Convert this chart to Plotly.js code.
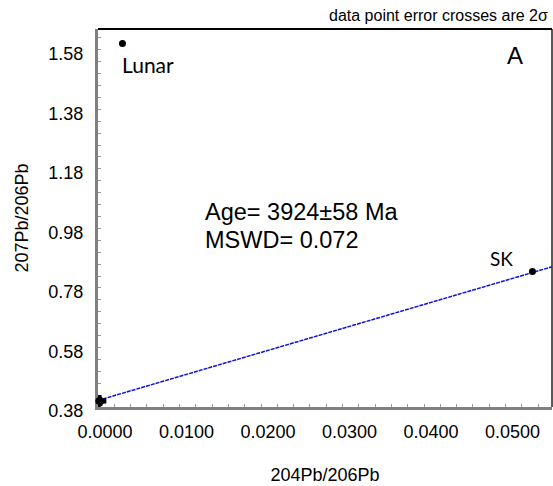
<!DOCTYPE html>
<html>
<head>
<meta charset="utf-8">
<script src="https://cdn.plot.ly/plotly-3.0.1.min.js"></script>
<style>html,body{margin:0;padding:0;background:#fff;}#chart{width:553px;height:486px;}</style>
</head>
<body>
<div id="chart"></div>
<script>
// Data
const clusterX = [0.0001, 0.0002, 0.0003];
const clusterY = [0.400, 0.402, 0.398];
const clusterErrX = [0.0009, 0.0008, 0.0007];
const clusterErrY = [0.020, 0.018, 0.015];
const labelledNames = ["Lunar", "SK"];
const labelledX = [0.0030, 0.0533];
const labelledY = [1.601, 0.835];
const lineX = [0.0, 0.0557];
const lineY = [0.402, 0.851];
const xTickVals = [0, 0.01, 0.02, 0.03, 0.04, 0.05];
const xTickText = ["0.0000", "0.0100", "0.0200", "0.0300", "0.0400", "0.0500"];
const yTickVals = [0.38, 0.58, 0.78, 0.98, 1.18, 1.38, 1.58];
const yTickText = ["0.38", "0.58", "0.78", "0.98", "1.18", "1.38", "1.58"];

const traces = [
  {
    x: lineX, y: lineY, mode: 'lines', type: 'scatter',
    line: {color: '#1010e0', width: 1.5, dash: '4px,1px'},
    hoverinfo: 'skip', showlegend: false
  },
  {
    x: clusterX, y: clusterY, mode: 'markers', type: 'scatter',
    marker: {color: '#000', size: 7},
    error_x: {type: 'data', array: clusterErrX, visible: true, color: '#000', thickness: 4, width: 0},
    error_y: {type: 'data', array: clusterErrY, visible: true, color: '#000', thickness: 4, width: 0},
    cliponaxis: false,
    showlegend: false
  },
  {
    x: labelledX, y: labelledY, mode: 'markers', type: 'scatter',
    marker: {color: '#000', size: 7},
    showlegend: false
  }
];

const annotations = [
  {x: labelledX[0], y: labelledY[0], xref: 'x', yref: 'y', text: labelledNames[0],
   showarrow: false, xanchor: 'left', yanchor: 'middle', yshift: -21, xshift: -2,
   font: {family: 'Lato, sans-serif', size: 21, color: '#000'}},
  {x: labelledX[1], y: labelledY[1], xref: 'x', yref: 'y', text: labelledNames[1],
   showarrow: false, xanchor: 'center', yanchor: 'middle', yshift: 13, xshift: -31,
   font: {family: 'Lato, sans-serif', size: 19, color: '#000'}},
  {x: 0.232, y: 0.516, xref: 'paper', yref: 'paper', text: 'Age= 3924±58 Ma',
   showarrow: false, xanchor: 'left', yanchor: 'middle',
   font: {family: 'Liberation Sans, Arial, sans-serif', size: 23.5, color: '#000'}},
  {x: 0.232, y: 0.442, xref: 'paper', yref: 'paper', text: 'MSWD= 0.072',
   showarrow: false, xanchor: 'left', yanchor: 'middle',
   font: {family: 'Liberation Sans, Arial, sans-serif', size: 23.5, color: '#000'}},
  {x: 0.919, y: 0.9286, xref: 'paper', yref: 'paper', text: 'A',
   showarrow: false, xanchor: 'center', yanchor: 'middle',
   font: {family: 'Liberation Sans, Arial, sans-serif', size: 24, color: '#000'}},
  {x: 0.996, y: 1.037, xref: 'paper', yref: 'paper', text: 'data point error crosses are 2σ',
   showarrow: false, xanchor: 'right', yanchor: 'middle',
   font: {family: 'Liberation Sans, Arial, sans-serif', size: 16, color: '#000'}}
];

const layout = {
  width: 553, height: 486,
  margin: {l: 98, r: 1, t: 29, b: 79},
  paper_bgcolor: '#fff', plot_bgcolor: '#fff',
  showlegend: false,
  font: {family: 'Liberation Sans, Arial, sans-serif', size: 18, color: '#000'},
  xaxis: {
    range: [0, 0.0557], showgrid: false, zeroline: false,
    showline: true, linecolor: '#808080', linewidth: 3, layer: 'below traces',
    tickmode: 'array', tickvals: xTickVals, ticktext: xTickText,
    ticks: 'inside', ticklen: 3, tickcolor: '#999', tickwidth: 1,
    minor: {dtick: 0.002, ticks: 'inside', ticklen: 3, tickcolor: '#999', showgrid: false},
    tickfont: {size: 18}, ticklabelshift: 7, ticklabelstandoff: 6,
    title: {text: '204Pb/206Pb', font: {size: 18}, standoff: 28}
  },
  yaxis: {
    range: [0.3799, 1.65], showgrid: false, zeroline: false,
    showline: true, linecolor: '#808080', linewidth: 3, layer: 'below traces',
    tickmode: 'array', tickvals: yTickVals, ticktext: yTickText,
    ticks: 'inside', ticklen: 3, tickcolor: '#999', tickwidth: 1,
    minor: {dtick: 0.04, tick0: 0.38, ticks: 'inside', ticklen: 3, tickcolor: '#999', showgrid: false},
    tickfont: {size: 18}, ticklabelshift: 4, ticklabelstandoff: 8,
    title: {text: '207Pb/206Pb', font: {size: 18}, standoff: 16}
  },
  shapes: [
    {type: 'line', xref: 'paper', yref: 'paper', x0: 0, x1: 1, y0: 1, y1: 1, line: {color: '#000', width: 2}},
    {type: 'line', xref: 'paper', yref: 'paper', x0: 1, x1: 1, y0: 0, y1: 1, line: {color: '#222', width: 1.5}}
  ],
  annotations: annotations
};

Plotly.newPlot('chart', traces, layout, {displayModeBar: false, staticPlot: true});
</script>
</body>
</html>
